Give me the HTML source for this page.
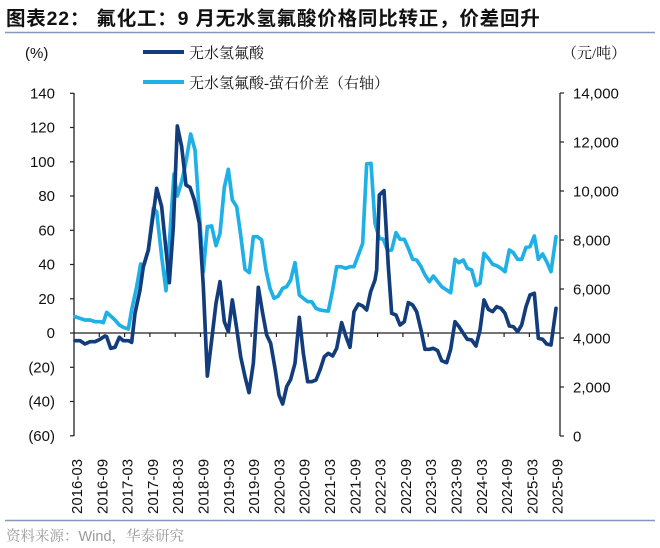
<!DOCTYPE html>
<html><head><meta charset="utf-8">
<style>
html,body{margin:0;padding:0;background:#fff;}
body{width:660px;height:548px;overflow:hidden;position:relative;font-family:"Liberation Sans","Noto Sans CJK SC",sans-serif;}
</style></head>
<body>
<svg width="660" height="548" viewBox="0 0 660 548" xmlns="http://www.w3.org/2000/svg" style="position:absolute;left:0;top:0">
<text x="6" y="25" font-size="19.5" font-weight="bold" letter-spacing="0.8" fill="#111" font-family="Liberation Sans,Noto Sans CJK SC,sans-serif">图表22：  氟化工：9 月无水氢氟酸价格同比转正，价差回升</text>
<line x1="5" y1="32.5" x2="655" y2="32.5" stroke="#8497bd" stroke-width="1.5"/>
<text x="25" y="58" font-size="15" fill="#111">(%)</text>
<text x="562" y="58" font-size="15" fill="#111" font-family="Liberation Serif,Noto Serif CJK SC,serif">（元/吨）</text>
<line x1="143" y1="52" x2="184" y2="52" stroke="#123c7c" stroke-width="4"/>
<text x="189" y="58" font-size="15" fill="#111" font-family="Liberation Serif,Noto Serif CJK SC,serif">无水氢氟酸</text>
<line x1="143" y1="82" x2="184" y2="82" stroke="#1fb0e8" stroke-width="4"/>
<text x="189" y="88" font-size="15" fill="#111" font-family="Liberation Serif,Noto Serif CJK SC,serif">无水氢氟酸-萤石价差（右轴）</text>
<g stroke="#222" stroke-width="1.3" fill="none">
<line x1="74" y1="93" x2="74" y2="436"/>
<line x1="560" y1="93" x2="560" y2="436"/>
<line x1="74" y1="333" x2="560" y2="333"/>
</g>
<g stroke="#222" stroke-width="1.2">
<line x1="70" y1="93.3" x2="74" y2="93.3"/><line x1="70" y1="127.5" x2="74" y2="127.5"/><line x1="70" y1="161.8" x2="74" y2="161.8"/><line x1="70" y1="196" x2="74" y2="196"/><line x1="70" y1="230.3" x2="74" y2="230.3"/><line x1="70" y1="264.5" x2="74" y2="264.5"/><line x1="70" y1="298.8" x2="74" y2="298.8"/><line x1="70" y1="333" x2="74" y2="333"/><line x1="70" y1="367.3" x2="74" y2="367.3"/><line x1="70" y1="401.5" x2="74" y2="401.5"/><line x1="70" y1="435.8" x2="74" y2="435.8"/>
<line x1="560" y1="93" x2="564" y2="93"/><line x1="560" y1="142" x2="564" y2="142"/><line x1="560" y1="191" x2="564" y2="191"/><line x1="560" y1="240" x2="564" y2="240"/><line x1="560" y1="289" x2="564" y2="289"/><line x1="560" y1="338" x2="564" y2="338"/><line x1="560" y1="387" x2="564" y2="387"/><line x1="560" y1="436" x2="564" y2="436"/>
</g>
<g stroke="#222" stroke-width="1.2">
<line x1="99.3" y1="333" x2="99.3" y2="337"/><line x1="124.6" y1="333" x2="124.6" y2="337"/><line x1="149.9" y1="333" x2="149.9" y2="337"/><line x1="175.2" y1="333" x2="175.2" y2="337"/><line x1="200.5" y1="333" x2="200.5" y2="337"/><line x1="225.8" y1="333" x2="225.8" y2="337"/><line x1="251.1" y1="333" x2="251.1" y2="337"/><line x1="276.4" y1="333" x2="276.4" y2="337"/><line x1="301.7" y1="333" x2="301.7" y2="337"/><line x1="327" y1="333" x2="327" y2="337"/><line x1="352.3" y1="333" x2="352.3" y2="337"/><line x1="377.6" y1="333" x2="377.6" y2="337"/><line x1="402.9" y1="333" x2="402.9" y2="337"/><line x1="428.2" y1="333" x2="428.2" y2="337"/><line x1="453.5" y1="333" x2="453.5" y2="337"/><line x1="478.8" y1="333" x2="478.8" y2="337"/><line x1="504.1" y1="333" x2="504.1" y2="337"/><line x1="529.4" y1="333" x2="529.4" y2="337"/>
</g>
<g font-size="15" fill="#111" text-anchor="end">
<text x="55" y="98.5">140</text><text x="55" y="132.7">120</text><text x="55" y="167">100</text><text x="55" y="201.2">80</text><text x="55" y="235.5">60</text><text x="55" y="269.7">40</text><text x="55" y="304">20</text><text x="55" y="338.2">0</text><text x="55" y="372.5">(20)</text><text x="55" y="406.7">(40)</text><text x="55" y="441">(60)</text>
</g>
<g font-size="15" fill="#111">
<text x="573" y="98.5">14,000</text><text x="573" y="147.5">12,000</text><text x="573" y="196.5">10,000</text><text x="573" y="245.5">8,000</text><text x="573" y="294.5">6,000</text><text x="573" y="343.5">4,000</text><text x="573" y="392.5">2,000</text><text x="573" y="441.5">0</text>
</g>
<g transform="translate(60,100) scale(0.33333)" fill="none" stroke-linejoin="round" stroke-linecap="round" stroke-width="11">
<polyline stroke="#1fb0e8" points="45,650 60,655 75,660 90,660 105,665 120,665 130,668 140,637 152,648 165,660 178,675 190,682 205,687 215,630 230,560 242,492 252,495 265,450 280,325 290,335 305,470 318,572 330,400 342,222 352,288 365,245 378,185 392,102 405,150 418,340 430,515 442,380 455,378 468,437 480,400 493,262 505,208 517,300 530,320 542,405 555,508 568,518 580,410 592,410 605,420 618,510 630,565 642,595 655,588 668,565 680,560 692,540 705,488 718,585 730,595 743,605 755,605 768,625 780,630 793,632 805,633 818,570 830,500 843,500 857,505 870,500 882,500 895,465 908,430 920,192 933,190 945,370 958,415 970,418 983,452 995,450 1008,398 1020,418 1033,418 1045,445 1058,478 1070,480 1083,500 1095,525 1108,545 1120,528 1133,545 1145,560 1160,570 1172,578 1185,478 1197,488 1210,480 1222,505 1235,510 1248,557 1260,550 1272,460 1285,475 1298,493 1310,497 1323,505 1335,515 1348,450 1360,458 1373,478 1385,478 1398,442 1410,440 1423,408 1435,478 1448,462 1460,485 1473,515 1488,410"/>
<polyline stroke="#123c7c" points="45,722 60,722 75,732 90,725 105,725 120,718 135,708 140,710 152,745 165,742 178,712 190,722 205,722 215,727 225,640 240,570 250,500 265,450 280,340 290,265 305,320 315,420 328,548 340,380 352,78 365,140 378,255 390,262 403,300 418,370 430,560 442,828 455,720 468,610 480,545 493,665 505,695 517,600 530,685 542,770 555,830 567,878 580,790 595,562 608,640 620,705 632,730 645,805 657,885 668,912 680,860 692,838 705,790 718,652 730,760 743,845 755,845 768,840 780,810 793,770 805,760 818,768 830,745 845,668 858,710 870,742 882,635 895,612 908,618 920,630 932,575 945,540 950,510 958,285 972,272 985,500 995,640 1008,645 1020,675 1033,665 1045,608 1058,615 1070,635 1083,690 1095,748 1108,748 1120,745 1133,752 1145,782 1160,788 1172,748 1185,665 1197,680 1210,700 1222,718 1235,720 1248,738 1260,690 1272,600 1285,628 1298,635 1310,620 1323,625 1335,640 1348,678 1360,680 1373,695 1385,675 1398,620 1410,585 1423,580 1435,715 1448,718 1460,732 1473,735 1488,625"/>
</g>
<g font-size="15" fill="#111">
<text transform="translate(82,514) rotate(-90)">2016-03</text>
<text transform="translate(107.3,514) rotate(-90)">2016-09</text>
<text transform="translate(132.6,514) rotate(-90)">2017-03</text>
<text transform="translate(157.9,514) rotate(-90)">2017-09</text>
<text transform="translate(183.2,514) rotate(-90)">2018-03</text>
<text transform="translate(208.5,514) rotate(-90)">2018-09</text>
<text transform="translate(233.8,514) rotate(-90)">2019-03</text>
<text transform="translate(259.1,514) rotate(-90)">2019-09</text>
<text transform="translate(284.4,514) rotate(-90)">2020-03</text>
<text transform="translate(309.7,514) rotate(-90)">2020-09</text>
<text transform="translate(335,514) rotate(-90)">2021-03</text>
<text transform="translate(360.3,514) rotate(-90)">2021-09</text>
<text transform="translate(385.6,514) rotate(-90)">2022-03</text>
<text transform="translate(410.9,514) rotate(-90)">2022-09</text>
<text transform="translate(436.2,514) rotate(-90)">2023-03</text>
<text transform="translate(461.5,514) rotate(-90)">2023-09</text>
<text transform="translate(486.8,514) rotate(-90)">2024-03</text>
<text transform="translate(512.1,514) rotate(-90)">2024-09</text>
<text transform="translate(537.4,514) rotate(-90)">2025-03</text>
<text transform="translate(562.7,514) rotate(-90)">2025-09</text>
</g>
<line x1="5" y1="520.5" x2="655" y2="520.5" stroke="#8497bd" stroke-width="1.5"/>
<text x="6" y="541" font-size="14.5" fill="#999" font-family="Liberation Sans,Noto Serif CJK SC,serif">资料来源：Wind，华泰研究</text>
</svg>
</body></html>
